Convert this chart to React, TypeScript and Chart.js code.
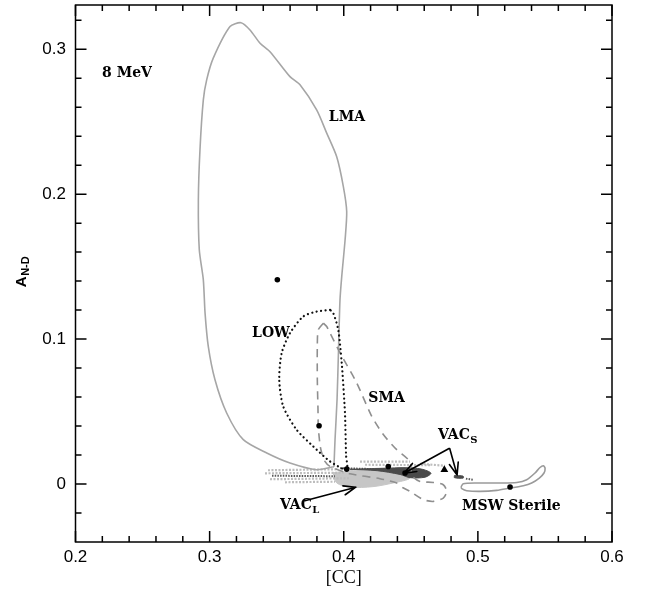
import React, { useEffect, useRef } from "react";
import { Chart, registerables } from "chart.js";

Chart.register(...registerables);

// ---- axes ----
const xRange = [0.2, 0.6];
const yRange = [-0.04, 0.3305];
const xMajorTicks = [0.2, 0.3, 0.4, 0.5, 0.6];
const xTickLabels = ["0.2", "0.3", "0.4", "0.5", "0.6"];
const xMinorTicks = [0.22, 0.24, 0.26, 0.28, 0.32, 0.34, 0.36, 0.38, 0.42, 0.44, 0.46, 0.48, 0.52, 0.54, 0.56, 0.58];
const yMajorTicks = [0, 0.1, 0.2, 0.3];
const yTickLabels = ["0", "0.1", "0.2", "0.3"];
const yMinorTicks = [-0.02, 0.02, 0.04, 0.06, 0.08, 0.12, 0.14, 0.16, 0.18, 0.22, 0.24, 0.26, 0.28, 0.32];

// ---- contours ----
const lmaContour = [
  [0.3927, 0.0119], [0.3935, 0.0306], [0.395, 0.0581], [0.3961, 0.0926], [0.3972, 0.1271],
  [0.3985, 0.1432], [0.401, 0.1685], [0.4022, 0.188], [0.3997, 0.2052], [0.3947, 0.2259],
  [0.3873, 0.2421], [0.3798, 0.2581], [0.3674, 0.2754], [0.3599, 0.2811], [0.345, 0.2983],
  [0.3376, 0.3041], [0.3301, 0.3133], [0.3234, 0.3183], [0.3152, 0.3156], [0.3027, 0.2938],
  [0.2978, 0.2788], [0.2953, 0.265], [0.2928, 0.2305], [0.2916, 0.1961], [0.2923, 0.1616],
  [0.2953, 0.1409], [0.2966, 0.1179], [0.299, 0.0949], [0.304, 0.0719], [0.3127, 0.049],
  [0.3251, 0.0306], [0.3426, 0.0214], [0.3599, 0.0145], [0.3798, 0.0099], [0.3927, 0.0119],
];

const lowContour = [
  [0.3898, 0.1202], [0.3798, 0.119], [0.3698, 0.1156], [0.3599, 0.1041], [0.3537, 0.0903],
  [0.3519, 0.0719], [0.3549, 0.0535], [0.3649, 0.0374], [0.3773, 0.0259], [0.3898, 0.0156],
  [0.4022, 0.0099], [0.4017, 0.0202], [0.4009, 0.049], [0.3985, 0.0834], [0.3959, 0.1064],
  [0.3922, 0.1179], [0.3898, 0.1202],
];

const smaContour = [
  [0.3848, 0.111], [0.381, 0.1064], [0.3803, 0.0961], [0.3803, 0.072], [0.3808, 0.0513],
  [0.381, 0.0397], [0.3823, 0.0271], [0.3836, 0.0214], [0.3861, 0.0154], [0.3898, 0.0121],
  [0.4047, 0.0071], [0.427, 0.0037], [0.4395, 0.0007], [0.4442, -0.0026], [0.4494, -0.0051],
  [0.4593, -0.0108], [0.4668, -0.012], [0.4742, -0.0097], [0.4768, -0.0051], [0.4742, -0.0005],
  [0.4668, 0.0011], [0.4569, 0.0018], [0.4509, 0.0057], [0.4494, 0.0154], [0.4395, 0.0237],
  [0.4295, 0.0341], [0.4205, 0.0474], [0.4097, 0.0697], [0.3972, 0.0906], [0.3898, 0.1041],
  [0.3873, 0.1087], [0.3848, 0.111],
];

const sterileContour = [
  [0.4874, -0.0021], [0.4891, 0.0002], [0.4991, 0.0007], [0.5165, 0.0007], [0.529, 0.0011],
  [0.5364, 0.003], [0.5426, 0.0076], [0.5463, 0.0114], [0.5488, 0.0126], [0.5501, 0.011],
  [0.5493, 0.0076], [0.5458, 0.0041], [0.5401, 0.0007], [0.5339, -0.0012], [0.524, -0.0028],
  [0.514, -0.0044], [0.5016, -0.0051], [0.4917, -0.0046], [0.488, -0.0032], [0.4874, -0.0021],
];

// ---- vacuum regions (filled) ----
const lightRegion = [
  [0.392, 0.0078], [0.4121, 0.0099], [0.432, 0.011], [0.4419, 0.0087], [0.4494, 0.0041],
  [0.4367, 0.0007], [0.4218, -0.0018], [0.4047, -0.0022], [0.3947, 0.0008], [0.392, 0.0078],
];
const darkRegion = [
  [0.4047, 0.0102], [0.43, 0.0108], [0.4457, 0.0113], [0.458, 0.0103], [0.465, 0.0075],
  [0.4606, 0.0047], [0.4494, 0.0044], [0.442, 0.0066], [0.425, 0.0092], [0.4047, 0.0102],
];
const darkSmallRegion = [
  [0.4825, 0.0058], [0.4889, 0.0055], [0.4891, 0.0041], [0.4825, 0.0044], [0.4825, 0.0058],
];

// streaks of scattered vacuum solutions: [x1, y1, x2, y2]
const lightStreaks = [
  [0.3435, 0.0095, 0.3957, 0.0102],
  [0.3413, 0.0074, 0.401, 0.0078],
  [0.345, 0.0033, 0.4047, 0.004],
  [0.3562, 0.0012, 0.3935, 0.0016],
  [0.4121, 0.0154, 0.4494, 0.0154],
  [0.4159, 0.0133, 0.4643, 0.013],
  [0.4568, 0.014, 0.4755, 0.0126],
];
const darkStreaks = [
  [0.3465, 0.0057, 0.3935, 0.0054],
  [0.3972, 0.0109, 0.4419, 0.0099],
  [0.4911, 0.0037, 0.4963, 0.003],
];

// best-fit points
const bestFitPoints = [
  [0.3505, 0.1409], [0.3816, 0.0402], [0.4022, 0.0103], [0.4332, 0.0121], [0.4457, 0.0076], [0.524, -0.0021],
];
const trianglePoints = [[0.475, 0.0099]];

// arrows: [fromX, fromY, toX, toY]
const arrows = [
  [0.371, -0.0115, 0.409, -0.0022],
  [0.4785, 0.0245, 0.4449, 0.0074],
  [0.479, 0.0245, 0.4845, 0.0062],
];

// text annotations: [text, subscript, x, y, align]
const annotations: [string, string, number, number, CanvasTextAlign][] = [
  ["8 MeV", "", 0.2198, 0.2831, "left"],
  ["LMA", "", 0.4024, 0.253, "center"],
  ["LOW", "", 0.3457, 0.1037, "center"],
  ["SMA", "", 0.4319, 0.0588, "center"],
  ["VAC", "S", 0.4703, 0.0333, "left"],
  ["VAC", "L", 0.3525, -0.0150, "left"],
  ["MSW Sterile", "", 0.4882, -0.0157, "left"],
];

const xTitle = "[CC]";
const yTitleMain = "A";
const yTitleSub = "N-D";

const pts = (arr: number[][]) => arr.map(([x, y]) => ({ x, y }));

const LABEL_FONT = "bold 14px 'DejaVu Serif'";
const SUB_FONT = "bold 10px 'DejaVu Serif'";

const decorPlugin = {
  id: "decor",
  afterDatasetsDraw(chart: any) {
    const { ctx, chartArea: a } = chart;
    const xs = chart.scales.x;
    const ys = chart.scales.y;
    ctx.save();

    // arrows
    ctx.strokeStyle = "#000";
    ctx.lineWidth = 1.6;
    ctx.lineCap = "round";
    for (const [x1, y1, x2, y2] of arrows) {
      const px1 = xs.getPixelForValue(x1), py1 = ys.getPixelForValue(y1);
      const px2 = xs.getPixelForValue(x2), py2 = ys.getPixelForValue(y2);
      const ang = Math.atan2(py2 - py1, px2 - px1);
      const L = 13;
      ctx.beginPath();
      ctx.moveTo(px1, py1);
      ctx.lineTo(px2, py2);
      for (const s of [-1, 1]) {
        ctx.moveTo(px2, py2);
        ctx.lineTo(px2 - L * Math.cos(ang + s * 0.36), py2 - L * Math.sin(ang + s * 0.36));
      }
      ctx.stroke();
    }

    // annotations
    ctx.fillStyle = "#000";
    ctx.textBaseline = "middle";
    for (const [t, sub, x, y, align] of annotations) {
      const px = xs.getPixelForValue(x), py = ys.getPixelForValue(y);
      ctx.font = LABEL_FONT;
      ctx.textAlign = align;
      ctx.fillText(t, px, py);
      if (sub) {
        const w = ctx.measureText(t).width;
        const sx = align === "left" ? px + w : px + w / 2;
        ctx.font = SUB_FONT;
        ctx.textAlign = "left";
        ctx.fillText(sub, sx + 0.5, py + 5);
      }
    }

    // frame
    ctx.lineCap = "butt";
    ctx.lineWidth = 1.5;
    ctx.strokeStyle = "#000";
    ctx.strokeRect(a.left, a.top, a.right - a.left, a.bottom - a.top);

    // ticks (inward, all four sides)
    ctx.beginPath();
    const xt = (vals: number[], len: number) => {
      for (const v of vals) {
        const p = xs.getPixelForValue(v);
        ctx.moveTo(p, a.bottom); ctx.lineTo(p, a.bottom - len);
        ctx.moveTo(p, a.top); ctx.lineTo(p, a.top + len);
      }
    };
    const yt = (vals: number[], len: number) => {
      for (const v of vals) {
        const p = ys.getPixelForValue(v);
        ctx.moveTo(a.left, p); ctx.lineTo(a.left + len, p);
        ctx.moveTo(a.right, p); ctx.lineTo(a.right - len, p);
      }
    };
    xt(xMajorTicks, 11);
    xt(xMinorTicks, 6);
    yt(yMajorTicks, 11);
    yt(yMinorTicks, 6);
    ctx.stroke();

    // tick labels
    ctx.font = "17px 'Liberation Sans'";
    ctx.textAlign = "center";
    ctx.textBaseline = "middle";
    xMajorTicks.forEach((v, i) => {
      ctx.fillText(xTickLabels[i], xs.getPixelForValue(v), a.bottom + 15);
    });
    ctx.textAlign = "right";
    yMajorTicks.forEach((v, i) => {
      ctx.fillText(yTickLabels[i], a.left - 9.5, ys.getPixelForValue(v));
    });

    // x title
    ctx.font = "18px 'Liberation Serif'";
    ctx.textAlign = "center";
    ctx.fillText(xTitle, (a.left + a.right) / 2, a.bottom + 36);

    // y title (rotated)
    ctx.save();
    ctx.translate(22, 272);
    ctx.rotate(-Math.PI / 2);
    const mainFont = "bold 15px 'Liberation Sans'";
    const subFont = "bold 11px 'Liberation Sans'";
    ctx.font = mainFont;
    const wA = ctx.measureText(yTitleMain).width;
    ctx.font = subFont;
    const wS = ctx.measureText(yTitleSub).width;
    const start = -(wA + wS) / 2;
    ctx.textAlign = "left";
    ctx.font = mainFont;
    ctx.fillText(yTitleMain, start, 0);
    ctx.font = subFont;
    ctx.fillText(yTitleSub, start + wA + 0.5, 4);
    ctx.restore();

    ctx.restore();
  },
};

export default function App() {
  const ref = useRef<HTMLCanvasElement>(null);
  useEffect(() => {
    document.body.style.margin = "0";
    const canvas = ref.current!;
    const lineDs = (data: number[][], color: string, width: number, dash: number[], order: number, extra: any = {}) => ({
      data: pts(data),
      showLine: true,
      borderColor: color,
      borderWidth: width,
      borderDash: dash,
      pointRadius: 0,
      pointHoverRadius: 0,
      fill: false,
      tension: 0.25,
      order,
      ...extra,
    });
    const datasets: any[] = [];
    datasets.push(lineDs(lightRegion, "#c6c6c6", 1, [], 60, { fill: "shape", backgroundColor: "#c6c6c6", tension: 0.3 }));
    lightStreaks.forEach((s) =>
      datasets.push(lineDs([[s[0], s[1]], [s[2], s[3]]], "#bdbdbd", 2.2, [2, 1.5], 55, { tension: 0 }))
    );
    darkStreaks.forEach((s) =>
      datasets.push(lineDs([[s[0], s[1]], [s[2], s[3]]], "#5a5a5a", 2, [1.5, 1.2], 50, { tension: 0 }))
    );
    datasets.push(lineDs(darkRegion, "#4a4a4a", 1, [], 45, { fill: "shape", backgroundColor: "#4a4a4a", tension: 0.3 }));
    datasets.push(lineDs(darkSmallRegion, "#4a4a4a", 1, [], 45, { fill: "shape", backgroundColor: "#4a4a4a", tension: 0.3 }));
    datasets.push(lineDs(lmaContour, "#a6a6a6", 1.6, [], 30));
    datasets.push(lineDs(smaContour, "#8f8f8f", 1.6, [8, 6], 25));
    datasets.push(lineDs(lowContour, "#111111", 2.2, [0.1, 4.4], 20, { borderCapStyle: "round" }));
    datasets.push(lineDs(sterileContour, "#9a9a9a", 1.6, [], 20));
    datasets.push({
      data: pts(bestFitPoints),
      showLine: false,
      pointRadius: 2.8,
      pointBackgroundColor: "#000",
      pointBorderColor: "#000",
      pointBorderWidth: 0,
      order: 5,
    });
    datasets.push({
      data: pts(trianglePoints),
      showLine: false,
      pointStyle: "triangle",
      pointRadius: 4.5,
      pointBackgroundColor: "#000",
      pointBorderColor: "#000",
      pointBorderWidth: 0,
      order: 5,
    });

    const chart = new Chart(canvas, {
      type: "scatter",
      data: { datasets },
      options: {
        animation: false,
        responsive: false,
        devicePixelRatio: 1,
        events: [],
        layout: { padding: { left: 75.5, right: 33, top: 5, bottom: 51 } },
        plugins: { legend: { display: false }, tooltip: { enabled: false } },
        scales: {
          x: { type: "linear", min: xRange[0], max: xRange[1], display: false },
          y: { type: "linear", min: yRange[0], max: yRange[1], display: false },
        },
      },
      plugins: [decorPlugin],
    });
    return () => chart.destroy();
  }, []);
  return (
    <div style={{ width: 645, height: 593, background: "#fff" }}>
      <canvas ref={ref} width={645} height={593} style={{ display: "block" }} />
    </div>
  );
}
